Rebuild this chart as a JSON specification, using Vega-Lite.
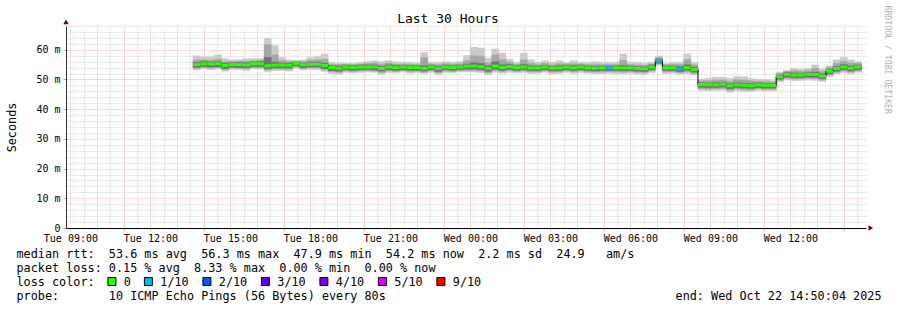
{
  "$schema": "https://vega.github.io/schema/vega-lite/v6.json",
  "width": 800,
  "height": 202,
  "autosize": {"type": "none"},
  "padding": {"left": 66, "top": 26, "right": 31, "bottom": 82},
  "background": "#ffffff",
  "config": {"view": {"stroke": null}, "font": "DejaVu Sans Mono"},
  "title": {"text": "Last 30 Hours", "font": "DejaVu Sans Mono", "fontSize": 13, "fontWeight": "normal", "color": "#000000", "anchor": "middle", "frame": "group", "dx": -18, "dy": 33, "offset": 2, "baseline": "alphabetic"},
  "datasets": {
    "pings": [
      {"t":"2025-10-21T13:36","t2":"2025-10-21T13:52","median":55.0,"loss":"0","lo1":53.2,"lo2":53.7,"lo3":54.1,"hi3":55.7,"hi2":56.5,"hi1":58.0},
      {"t":"2025-10-21T13:52","t2":"2025-10-21T14:08","median":55.3,"loss":"0","lo1":53.6,"lo2":54.0,"lo3":54.4,"hi3":56.0,"hi2":56.6,"hi1":57.6},
      {"t":"2025-10-21T14:08","t2":"2025-10-21T14:24","median":55.2,"loss":"0","lo1":53.3,"lo2":53.8,"lo3":54.2,"hi3":55.9,"hi2":56.5,"hi1":57.6},
      {"t":"2025-10-21T14:24","t2":"2025-10-21T14:40","median":55.3,"loss":"0","lo1":53.5,"lo2":54.0,"lo3":54.3,"hi3":56.0,"hi2":56.9,"hi1":58.3},
      {"t":"2025-10-21T14:40","t2":"2025-10-21T14:56","median":54.7,"loss":"0","lo1":52.8,"lo2":53.3,"lo3":53.7,"hi3":55.4,"hi2":56.0,"hi1":57.0},
      {"t":"2025-10-21T14:56","t2":"2025-10-21T15:12","median":55.0,"loss":"0","lo1":53.4,"lo2":53.9,"lo3":54.1,"hi3":55.6,"hi2":56.0,"hi1":56.6},
      {"t":"2025-10-21T15:12","t2":"2025-10-21T15:28","median":55.0,"loss":"0","lo1":53.3,"lo2":53.8,"lo3":54.0,"hi3":55.7,"hi2":56.1,"hi1":56.6},
      {"t":"2025-10-21T15:28","t2":"2025-10-21T15:44","median":54.9,"loss":"0","lo1":53.0,"lo2":53.6,"lo3":54.0,"hi3":55.6,"hi2":56.2,"hi1":57.0},
      {"t":"2025-10-21T15:44","t2":"2025-10-21T16:00","median":55.3,"loss":"0","lo1":53.6,"lo2":54.0,"lo3":54.4,"hi3":55.9,"hi2":56.3,"hi1":57.0},
      {"t":"2025-10-21T16:00","t2":"2025-10-21T16:16","median":55.3,"loss":"0","lo1":53.5,"lo2":54.0,"lo3":54.3,"hi3":56.0,"hi2":56.5,"hi1":57.0},
      {"t":"2025-10-21T16:16","t2":"2025-10-21T16:32","median":54.6,"loss":"0","lo1":52.6,"lo2":53.2,"lo3":53.6,"hi3":57.4,"hi2":61.7,"hi1":63.9},
      {"t":"2025-10-21T16:32","t2":"2025-10-21T16:48","median":54.8,"loss":"0","lo1":53.0,"lo2":53.5,"lo3":53.9,"hi3":55.8,"hi2":58.3,"hi1":61.4},
      {"t":"2025-10-21T16:48","t2":"2025-10-21T17:04","median":54.8,"loss":"0","lo1":53.0,"lo2":53.5,"lo3":53.9,"hi3":55.5,"hi2":56.3,"hi1":57.4},
      {"t":"2025-10-21T17:04","t2":"2025-10-21T17:20","median":54.8,"loss":"0","lo1":52.8,"lo2":53.4,"lo3":53.9,"hi3":55.5,"hi2":56.0,"hi1":56.6},
      {"t":"2025-10-21T17:20","t2":"2025-10-21T17:36","median":55.4,"loss":"0","lo1":53.8,"lo2":54.3,"lo3":54.6,"hi3":55.9,"hi2":56.1,"hi1":56.4},
      {"t":"2025-10-21T17:36","t2":"2025-10-21T17:52","median":54.9,"loss":"0","lo1":53.2,"lo2":53.7,"lo3":54.0,"hi3":55.5,"hi2":56.0,"hi1":56.6},
      {"t":"2025-10-21T17:52","t2":"2025-10-21T18:08","median":55.1,"loss":"0","lo1":53.4,"lo2":53.9,"lo3":54.2,"hi3":55.8,"hi2":56.5,"hi1":57.4},
      {"t":"2025-10-21T18:08","t2":"2025-10-21T18:24","median":55.1,"loss":"0","lo1":53.3,"lo2":53.9,"lo3":54.2,"hi3":55.8,"hi2":56.6,"hi1":57.8},
      {"t":"2025-10-21T18:24","t2":"2025-10-21T18:40","median":54.7,"loss":"0","lo1":52.7,"lo2":53.3,"lo3":53.7,"hi3":55.5,"hi2":56.8,"hi1":58.6},
      {"t":"2025-10-21T18:40","t2":"2025-10-21T18:56","median":54.0,"loss":"0","lo1":52.0,"lo2":52.6,"lo3":53.0,"hi3":54.6,"hi2":55.1,"hi1":55.8},
      {"t":"2025-10-21T18:56","t2":"2025-10-21T19:12","median":53.8,"loss":"0","lo1":51.8,"lo2":52.4,"lo3":52.8,"hi3":54.5,"hi2":55.0,"hi1":55.5},
      {"t":"2025-10-21T19:12","t2":"2025-10-21T19:28","median":54.2,"loss":"0","lo1":52.4,"lo2":52.9,"lo3":53.3,"hi3":54.8,"hi2":55.1,"hi1":55.5},
      {"t":"2025-10-21T19:28","t2":"2025-10-21T19:44","median":54.0,"loss":"0","lo1":52.2,"lo2":52.7,"lo3":53.1,"hi3":54.6,"hi2":55.0,"hi1":55.5},
      {"t":"2025-10-21T19:44","t2":"2025-10-21T20:00","median":54.2,"loss":"0","lo1":52.3,"lo2":52.9,"lo3":53.3,"hi3":54.8,"hi2":55.2,"hi1":55.8},
      {"t":"2025-10-21T20:00","t2":"2025-10-21T20:16","median":54.2,"loss":"0","lo1":52.5,"lo2":53.0,"lo3":53.3,"hi3":54.9,"hi2":55.4,"hi1":56.0},
      {"t":"2025-10-21T20:16","t2":"2025-10-21T20:32","median":54.2,"loss":"0","lo1":52.4,"lo2":52.9,"lo3":53.2,"hi3":54.9,"hi2":55.5,"hi1":56.3},
      {"t":"2025-10-21T20:32","t2":"2025-10-21T20:48","median":53.7,"loss":"0","lo1":51.8,"lo2":52.4,"lo3":52.8,"hi3":54.4,"hi2":55.1,"hi1":56.0},
      {"t":"2025-10-21T20:48","t2":"2025-10-21T21:04","median":54.2,"loss":"0","lo1":52.3,"lo2":52.9,"lo3":53.3,"hi3":54.9,"hi2":55.5,"hi1":56.3},
      {"t":"2025-10-21T21:04","t2":"2025-10-21T21:20","median":54.0,"loss":"0","lo1":52.2,"lo2":52.7,"lo3":53.1,"hi3":54.7,"hi2":55.2,"hi1":56.0},
      {"t":"2025-10-21T21:20","t2":"2025-10-21T21:36","median":54.2,"loss":"0","lo1":52.5,"lo2":53.0,"lo3":53.3,"hi3":54.8,"hi2":55.2,"hi1":55.8},
      {"t":"2025-10-21T21:36","t2":"2025-10-21T21:52","median":54.0,"loss":"0","lo1":52.1,"lo2":52.7,"lo3":53.1,"hi3":54.6,"hi2":55.1,"hi1":55.8},
      {"t":"2025-10-21T21:52","t2":"2025-10-21T22:08","median":54.0,"loss":"0","lo1":52.3,"lo2":52.8,"lo3":53.1,"hi3":54.6,"hi2":55.0,"hi1":55.6},
      {"t":"2025-10-21T22:08","t2":"2025-10-21T22:24","median":53.8,"loss":"0","lo1":52.0,"lo2":52.5,"lo3":52.9,"hi3":54.6,"hi2":57.4,"hi1":59.2},
      {"t":"2025-10-21T22:24","t2":"2025-10-21T22:40","median":54.2,"loss":"0","lo1":52.4,"lo2":52.9,"lo3":53.3,"hi3":54.8,"hi2":55.2,"hi1":55.8},
      {"t":"2025-10-21T22:40","t2":"2025-10-21T22:56","median":53.7,"loss":"0","lo1":51.7,"lo2":52.3,"lo3":52.7,"hi3":54.4,"hi2":55.0,"hi1":55.8},
      {"t":"2025-10-21T22:56","t2":"2025-10-21T23:12","median":54.2,"loss":"0","lo1":52.4,"lo2":52.9,"lo3":53.3,"hi3":54.8,"hi2":55.3,"hi1":56.0},
      {"t":"2025-10-21T23:12","t2":"2025-10-21T23:28","median":54.0,"loss":"0","lo1":52.2,"lo2":52.7,"lo3":53.1,"hi3":54.6,"hi2":55.1,"hi1":55.8},
      {"t":"2025-10-21T23:28","t2":"2025-10-21T23:44","median":54.2,"loss":"0","lo1":52.5,"lo2":53.0,"lo3":53.3,"hi3":54.8,"hi2":55.3,"hi1":56.0},
      {"t":"2025-10-21T23:44","t2":"2025-10-22T00:00","median":54.5,"loss":"0","lo1":52.6,"lo2":53.1,"lo3":53.5,"hi3":55.2,"hi2":56.3,"hi1":58.1},
      {"t":"2025-10-22T00:00","t2":"2025-10-22T00:16","median":54.5,"loss":"0","lo1":52.5,"lo2":53.1,"lo3":53.5,"hi3":55.6,"hi2":58.0,"hi1":60.9},
      {"t":"2025-10-22T00:16","t2":"2025-10-22T00:32","median":54.3,"loss":"0","lo1":52.3,"lo2":52.9,"lo3":53.3,"hi3":55.4,"hi2":57.8,"hi1":60.6},
      {"t":"2025-10-22T00:32","t2":"2025-10-22T00:48","median":53.8,"loss":"0","lo1":51.6,"lo2":52.3,"lo3":52.8,"hi3":54.6,"hi2":55.6,"hi1":57.2},
      {"t":"2025-10-22T00:48","t2":"2025-10-22T01:04","median":54.5,"loss":"0","lo1":52.4,"lo2":53.0,"lo3":53.5,"hi3":55.9,"hi2":58.3,"hi1":60.3},
      {"t":"2025-10-22T01:04","t2":"2025-10-22T01:20","median":54.0,"loss":"0","lo1":52.1,"lo2":52.7,"lo3":53.1,"hi3":54.9,"hi2":56.6,"hi1":58.9},
      {"t":"2025-10-22T01:20","t2":"2025-10-22T01:36","median":54.3,"loss":"0","lo1":52.4,"lo2":53.0,"lo3":53.4,"hi3":55.0,"hi2":55.8,"hi1":56.8},
      {"t":"2025-10-22T01:36","t2":"2025-10-22T01:52","median":54.0,"loss":"0","lo1":52.2,"lo2":52.7,"lo3":53.1,"hi3":54.6,"hi2":55.1,"hi1":55.8},
      {"t":"2025-10-22T01:52","t2":"2025-10-22T02:08","median":54.2,"loss":"0","lo1":52.3,"lo2":52.9,"lo3":53.3,"hi3":55.0,"hi2":56.6,"hi1":58.9},
      {"t":"2025-10-22T02:08","t2":"2025-10-22T02:24","median":53.9,"loss":"0","lo1":52.0,"lo2":52.6,"lo3":53.0,"hi3":54.6,"hi2":55.4,"hi1":56.6},
      {"t":"2025-10-22T02:24","t2":"2025-10-22T02:40","median":53.9,"loss":"0","lo1":52.1,"lo2":52.6,"lo3":53.0,"hi3":54.5,"hi2":55.0,"hi1":55.8},
      {"t":"2025-10-22T02:40","t2":"2025-10-22T02:56","median":54.2,"loss":"0","lo1":52.4,"lo2":52.9,"lo3":53.3,"hi3":54.8,"hi2":55.4,"hi1":56.3},
      {"t":"2025-10-22T02:56","t2":"2025-10-22T03:12","median":53.8,"loss":"0","lo1":51.9,"lo2":52.5,"lo3":52.9,"hi3":54.4,"hi2":54.9,"hi1":55.8},
      {"t":"2025-10-22T03:12","t2":"2025-10-22T03:28","median":53.9,"loss":"0","lo1":52.0,"lo2":52.6,"lo3":53.0,"hi3":54.6,"hi2":55.3,"hi1":56.3},
      {"t":"2025-10-22T03:28","t2":"2025-10-22T03:44","median":54.2,"loss":"0","lo1":52.4,"lo2":52.9,"lo3":53.3,"hi3":54.8,"hi2":55.2,"hi1":55.8},
      {"t":"2025-10-22T03:44","t2":"2025-10-22T04:00","median":53.9,"loss":"0","lo1":52.0,"lo2":52.6,"lo3":53.0,"hi3":54.6,"hi2":55.3,"hi1":56.3},
      {"t":"2025-10-22T04:00","t2":"2025-10-22T04:16","median":54.2,"loss":"0","lo1":52.3,"lo2":52.9,"lo3":53.3,"hi3":54.8,"hi2":55.2,"hi1":55.8},
      {"t":"2025-10-22T04:16","t2":"2025-10-22T04:32","median":53.9,"loss":"0","lo1":52.1,"lo2":52.6,"lo3":53.0,"hi3":54.5,"hi2":55.0,"hi1":55.8},
      {"t":"2025-10-22T04:32","t2":"2025-10-22T04:48","median":53.8,"loss":"0","lo1":51.9,"lo2":52.5,"lo3":52.9,"hi3":54.4,"hi2":55.0,"hi1":56.0},
      {"t":"2025-10-22T04:48","t2":"2025-10-22T05:04","median":53.9,"loss":"0","lo1":52.0,"lo2":52.6,"lo3":53.0,"hi3":54.5,"hi2":55.0,"hi1":55.8},
      {"t":"2025-10-22T05:04","t2":"2025-10-22T05:20","median":53.9,"loss":"1/10","lo1":52.1,"lo2":52.6,"lo3":53.0,"hi3":54.5,"hi2":55.0,"hi1":55.8},
      {"t":"2025-10-22T05:20","t2":"2025-10-22T05:36","median":53.9,"loss":"0","lo1":52.0,"lo2":52.6,"lo3":53.0,"hi3":54.5,"hi2":55.0,"hi1":55.8},
      {"t":"2025-10-22T05:36","t2":"2025-10-22T05:52","median":53.9,"loss":"0","lo1":51.9,"lo2":52.5,"lo3":53.0,"hi3":54.7,"hi2":56.5,"hi1":58.6},
      {"t":"2025-10-22T05:52","t2":"2025-10-22T06:08","median":53.9,"loss":"0","lo1":52.1,"lo2":52.6,"lo3":53.0,"hi3":54.5,"hi2":55.0,"hi1":55.8},
      {"t":"2025-10-22T06:08","t2":"2025-10-22T06:24","median":53.7,"loss":"0","lo1":51.8,"lo2":52.4,"lo3":52.8,"hi3":54.3,"hi2":54.9,"hi1":55.8},
      {"t":"2025-10-22T06:24","t2":"2025-10-22T06:40","median":53.6,"loss":"0","lo1":51.7,"lo2":52.3,"lo3":52.7,"hi3":54.2,"hi2":54.8,"hi1":55.5},
      {"t":"2025-10-22T06:40","t2":"2025-10-22T06:56","median":54.2,"loss":"0","lo1":52.3,"lo2":52.9,"lo3":53.3,"hi3":54.8,"hi2":55.2,"hi1":55.8},
      {"t":"2025-10-22T06:56","t2":"2025-10-22T07:12","median":56.3,"loss":"1/10","lo1":54.8,"lo2":55.2,"lo3":55.5,"hi3":56.9,"hi2":57.3,"hi1":57.9},
      {"t":"2025-10-22T07:12","t2":"2025-10-22T07:28","median":53.9,"loss":"0","lo1":52.0,"lo2":52.6,"lo3":53.0,"hi3":54.5,"hi2":55.0,"hi1":55.5},
      {"t":"2025-10-22T07:28","t2":"2025-10-22T07:44","median":53.9,"loss":"0","lo1":52.1,"lo2":52.6,"lo3":53.0,"hi3":54.5,"hi2":55.1,"hi1":55.8},
      {"t":"2025-10-22T07:44","t2":"2025-10-22T08:00","median":53.6,"loss":"1/10","lo1":51.8,"lo2":52.3,"lo3":52.7,"hi3":54.3,"hi2":55.0,"hi1":55.8},
      {"t":"2025-10-22T08:00","t2":"2025-10-22T08:16","median":54.0,"loss":"0","lo1":52.0,"lo2":52.6,"lo3":53.1,"hi3":54.9,"hi2":56.7,"hi1":58.6},
      {"t":"2025-10-22T08:16","t2":"2025-10-22T08:32","median":53.4,"loss":"0","lo1":51.5,"lo2":52.1,"lo3":52.5,"hi3":54.1,"hi2":54.9,"hi1":55.8},
      {"t":"2025-10-22T08:32","t2":"2025-10-22T08:48","median":48.3,"loss":"0","lo1":46.3,"lo2":46.9,"lo3":47.4,"hi3":48.9,"hi2":49.5,"hi1":50.1},
      {"t":"2025-10-22T08:48","t2":"2025-10-22T09:04","median":48.2,"loss":"0","lo1":46.2,"lo2":46.8,"lo3":47.3,"hi3":48.8,"hi2":49.6,"hi1":50.4},
      {"t":"2025-10-22T09:04","t2":"2025-10-22T09:20","median":48.2,"loss":"0","lo1":46.3,"lo2":46.9,"lo3":47.3,"hi3":48.9,"hi2":49.8,"hi1":50.8},
      {"t":"2025-10-22T09:20","t2":"2025-10-22T09:36","median":48.4,"loss":"0","lo1":46.4,"lo2":47.0,"lo3":47.5,"hi3":49.0,"hi2":49.9,"hi1":50.8},
      {"t":"2025-10-22T09:36","t2":"2025-10-22T09:52","median":47.9,"loss":"0","lo1":45.7,"lo2":46.4,"lo3":46.9,"hi3":48.6,"hi2":49.4,"hi1":50.4},
      {"t":"2025-10-22T09:52","t2":"2025-10-22T10:08","median":48.2,"loss":"0","lo1":46.2,"lo2":46.8,"lo3":47.3,"hi3":48.9,"hi2":49.9,"hi1":51.0},
      {"t":"2025-10-22T10:08","t2":"2025-10-22T10:24","median":48.0,"loss":"0","lo1":45.9,"lo2":46.6,"lo3":47.1,"hi3":48.7,"hi2":49.8,"hi1":51.0},
      {"t":"2025-10-22T10:24","t2":"2025-10-22T10:40","median":47.9,"loss":"0","lo1":45.9,"lo2":46.5,"lo3":47.0,"hi3":48.6,"hi2":49.5,"hi1":50.4},
      {"t":"2025-10-22T10:40","t2":"2025-10-22T10:56","median":48.2,"loss":"0","lo1":46.3,"lo2":46.9,"lo3":47.3,"hi3":48.8,"hi2":49.4,"hi1":50.1},
      {"t":"2025-10-22T10:56","t2":"2025-10-22T11:12","median":48.0,"loss":"0","lo1":46.1,"lo2":46.7,"lo3":47.1,"hi3":48.6,"hi2":49.3,"hi1":49.9},
      {"t":"2025-10-22T11:12","t2":"2025-10-22T11:28","median":48.0,"loss":"0","lo1":46.2,"lo2":46.7,"lo3":47.1,"hi3":48.6,"hi2":49.2,"hi1":49.7},
      {"t":"2025-10-22T11:28","t2":"2025-10-22T11:44","median":50.9,"loss":"0","lo1":49.2,"lo2":49.7,"lo3":50.1,"hi3":51.5,"hi2":52.0,"hi1":52.4},
      {"t":"2025-10-22T11:44","t2":"2025-10-22T12:00","median":51.7,"loss":"0","lo1":49.9,"lo2":50.4,"lo3":50.8,"hi3":52.3,"hi2":52.7,"hi1":53.0},
      {"t":"2025-10-22T12:00","t2":"2025-10-22T12:16","median":51.5,"loss":"0","lo1":49.6,"lo2":50.2,"lo3":50.6,"hi3":52.2,"hi2":53.0,"hi1":53.8},
      {"t":"2025-10-22T12:16","t2":"2025-10-22T12:32","median":51.5,"loss":"0","lo1":49.7,"lo2":50.2,"lo3":50.6,"hi3":52.1,"hi2":52.8,"hi1":53.5},
      {"t":"2025-10-22T12:32","t2":"2025-10-22T12:48","median":51.7,"loss":"0","lo1":49.8,"lo2":50.4,"lo3":50.8,"hi3":52.3,"hi2":53.0,"hi1":53.8},
      {"t":"2025-10-22T12:48","t2":"2025-10-22T13:04","median":51.7,"loss":"0","lo1":49.7,"lo2":50.3,"lo3":50.8,"hi3":52.5,"hi2":53.7,"hi1":54.9},
      {"t":"2025-10-22T13:04","t2":"2025-10-22T13:20","median":51.2,"loss":"0","lo1":49.3,"lo2":49.9,"lo3":50.3,"hi3":51.9,"hi2":52.7,"hi1":53.5},
      {"t":"2025-10-22T13:20","t2":"2025-10-22T13:36","median":52.8,"loss":"0","lo1":50.9,"lo2":51.5,"lo3":51.9,"hi3":53.4,"hi2":54.0,"hi1":54.6},
      {"t":"2025-10-22T13:36","t2":"2025-10-22T13:52","median":53.7,"loss":"0","lo1":51.8,"lo2":52.4,"lo3":52.8,"hi3":54.4,"hi2":55.4,"hi1":56.6},
      {"t":"2025-10-22T13:52","t2":"2025-10-22T14:08","median":54.2,"loss":"0","lo1":52.3,"lo2":52.9,"lo3":53.3,"hi3":55.0,"hi2":56.1,"hi1":57.5},
      {"t":"2025-10-22T14:08","t2":"2025-10-22T14:24","median":53.8,"loss":"0","lo1":51.9,"lo2":52.5,"lo3":52.9,"hi3":54.5,"hi2":55.5,"hi1":56.6},
      {"t":"2025-10-22T14:24","t2":"2025-10-22T14:40","median":54.2,"loss":"0","lo1":52.4,"lo2":52.9,"lo3":53.3,"hi3":54.8,"hi2":55.4,"hi1":56.0}
    ]
  },
  "data": {"name": "pings"},
  "resolve": {"axis": {"x": "independent", "y": "independent"}},
  "layer": [
    {
      "mark": {"type": "rect", "fill": "#cbcbcb", "stroke": "#cbcbcb", "strokeWidth": 0.5},
      "encoding": {
        "x": {"field": "t", "type": "temporal",
          "scale": {"domain": [{"year": 2025, "month": 10, "date": 21, "hours": 8, "minutes": 50, "seconds": 4}, {"year": 2025, "month": 10, "date": 22, "hours": 14, "minutes": 50, "seconds": 4}], "padding": 0},
          "axis": {"orient": "top",
            "values": [
              {"year": 2025, "month": 10, "date": 21, "hours": 9, "minutes": 30},
              {"year": 2025, "month": 10, "date": 21, "hours": 10, "minutes": 30},
              {"year": 2025, "month": 10, "date": 21, "hours": 11, "minutes": 30},
              {"year": 2025, "month": 10, "date": 21, "hours": 12, "minutes": 30},
              {"year": 2025, "month": 10, "date": 21, "hours": 13, "minutes": 30},
              {"year": 2025, "month": 10, "date": 21, "hours": 14, "minutes": 30},
              {"year": 2025, "month": 10, "date": 21, "hours": 15, "minutes": 30},
              {"year": 2025, "month": 10, "date": 21, "hours": 16, "minutes": 30},
              {"year": 2025, "month": 10, "date": 21, "hours": 17, "minutes": 30},
              {"year": 2025, "month": 10, "date": 21, "hours": 18, "minutes": 30},
              {"year": 2025, "month": 10, "date": 21, "hours": 19, "minutes": 30},
              {"year": 2025, "month": 10, "date": 21, "hours": 20, "minutes": 30},
              {"year": 2025, "month": 10, "date": 21, "hours": 21, "minutes": 30},
              {"year": 2025, "month": 10, "date": 21, "hours": 22, "minutes": 30},
              {"year": 2025, "month": 10, "date": 21, "hours": 23, "minutes": 30},
              {"year": 2025, "month": 10, "date": 22, "hours": 0, "minutes": 30},
              {"year": 2025, "month": 10, "date": 22, "hours": 1, "minutes": 30},
              {"year": 2025, "month": 10, "date": 22, "hours": 2, "minutes": 30},
              {"year": 2025, "month": 10, "date": 22, "hours": 3, "minutes": 30},
              {"year": 2025, "month": 10, "date": 22, "hours": 4, "minutes": 30},
              {"year": 2025, "month": 10, "date": 22, "hours": 5, "minutes": 30},
              {"year": 2025, "month": 10, "date": 22, "hours": 6, "minutes": 30},
              {"year": 2025, "month": 10, "date": 22, "hours": 7, "minutes": 30},
              {"year": 2025, "month": 10, "date": 22, "hours": 8, "minutes": 30},
              {"year": 2025, "month": 10, "date": 22, "hours": 9, "minutes": 30},
              {"year": 2025, "month": 10, "date": 22, "hours": 10, "minutes": 30},
              {"year": 2025, "month": 10, "date": 22, "hours": 11, "minutes": 30},
              {"year": 2025, "month": 10, "date": 22, "hours": 12, "minutes": 30},
              {"year": 2025, "month": 10, "date": 22, "hours": 13, "minutes": 30},
              {"year": 2025, "month": 10, "date": 22, "hours": 14, "minutes": 30}
            ],
            "labels": false, "ticks": false, "domain": false,
            "grid": true, "gridColor": "#d4d4d4", "gridDash": [1, 1], "gridWidth": 1,
            "title": "end: Wed Oct 22 14:50:04 2025", "titleFont": "DejaVu Sans Mono", "titleFontSize": 11.8, "titleFontWeight": "normal", "titleColor": "#000000",
            "titleX": 815, "titleY": 273.5, "titleAlign": "right", "titleBaseline": "alphabetic", "titleAngle": 0}},
        "x2": {"field": "t2"},
        "y": {"field": "lo1", "type": "quantitative",
          "scale": {"domain": [0, 68], "nice": false, "zero": false, "padding": 0},
          "axis": {"orient": "right", "values": [2, 4, 6, 8, 12, 14, 16, 18, 22, 24, 26, 28, 32, 34, 36, 38, 42, 44, 46, 48, 52, 54, 56, 58, 62, 64, 66, 68],
            "labels": false, "ticks": false, "domain": false,
            "grid": true, "gridColor": "#d4d4d4", "gridDash": [1, 1], "gridWidth": 1,
            "title": "RRDTOOL / TOBI OETIKER", "titleFont": "DejaVu Sans Mono", "titleFontSize": 8.2, "titleFontWeight": "normal", "titleColor": "#b0b0b0",
            "titleAngle": 90, "titleX": 20, "titleY": -21, "titleAlign": "left", "titleBaseline": "middle"}},
        "y2": {"field": "hi1"}
      }
    },
    {
      "mark": {"type": "rect", "fill": "#a5a5a5", "stroke": "#a5a5a5", "strokeWidth": 0.5},
      "encoding": {
        "x": {"field": "t", "type": "temporal", "axis": null},
        "x2": {"field": "t2"},
        "y": {"field": "lo2", "type": "quantitative", "axis": null},
        "y2": {"field": "hi2"}
      }
    },
    {
      "mark": {"type": "rect", "fill": "#707070", "stroke": "#707070", "strokeWidth": 0.5},
      "encoding": {
        "x": {"field": "t", "type": "temporal", "axis": null},
        "x2": {"field": "t2"},
        "y": {"field": "lo3", "type": "quantitative", "axis": null},
        "y2": {"field": "hi3"}
      }
    },
    {
      "mark": {"type": "line", "interpolate": "step-after", "stroke": "#000000", "strokeWidth": 1},
      "encoding": {
        "x": {"field": "t", "type": "temporal", "axis": null},
        "y": {"field": "median", "type": "quantitative", "axis": null}
      }
    },
    {
      "mark": {"type": "bar", "height": 3, "opacity": 1},
      "encoding": {
        "x": {"field": "t", "type": "temporal",
          "axis": {"orient": "bottom",
            "values": [
              {"year": 2025, "month": 10, "date": 21, "hours": 9},
              {"year": 2025, "month": 10, "date": 21, "hours": 10},
              {"year": 2025, "month": 10, "date": 21, "hours": 11},
              {"year": 2025, "month": 10, "date": 21, "hours": 12},
              {"year": 2025, "month": 10, "date": 21, "hours": 13},
              {"year": 2025, "month": 10, "date": 21, "hours": 14},
              {"year": 2025, "month": 10, "date": 21, "hours": 15},
              {"year": 2025, "month": 10, "date": 21, "hours": 16},
              {"year": 2025, "month": 10, "date": 21, "hours": 17},
              {"year": 2025, "month": 10, "date": 21, "hours": 18},
              {"year": 2025, "month": 10, "date": 21, "hours": 19},
              {"year": 2025, "month": 10, "date": 21, "hours": 20},
              {"year": 2025, "month": 10, "date": 21, "hours": 21},
              {"year": 2025, "month": 10, "date": 21, "hours": 22},
              {"year": 2025, "month": 10, "date": 21, "hours": 23},
              {"year": 2025, "month": 10, "date": 22, "hours": 0},
              {"year": 2025, "month": 10, "date": 22, "hours": 1},
              {"year": 2025, "month": 10, "date": 22, "hours": 2},
              {"year": 2025, "month": 10, "date": 22, "hours": 3},
              {"year": 2025, "month": 10, "date": 22, "hours": 4},
              {"year": 2025, "month": 10, "date": 22, "hours": 5},
              {"year": 2025, "month": 10, "date": 22, "hours": 6},
              {"year": 2025, "month": 10, "date": 22, "hours": 7},
              {"year": 2025, "month": 10, "date": 22, "hours": 8},
              {"year": 2025, "month": 10, "date": 22, "hours": 9},
              {"year": 2025, "month": 10, "date": 22, "hours": 10},
              {"year": 2025, "month": 10, "date": 22, "hours": 11},
              {"year": 2025, "month": 10, "date": 22, "hours": 12},
              {"year": 2025, "month": 10, "date": 22, "hours": 13},
              {"year": 2025, "month": 10, "date": 22, "hours": 14}
            ],
            "labelExpr": "hours(datum.value) % 3 == 0 ? timeFormat(datum.value, '%a %H:%M') : ''",
            "labelFont": "DejaVu Sans Mono", "labelFontSize": 10, "labelColor": "#000000", "labelPadding": 3, "labelOverlap": false, "labelFlush": false,
            "ticks": true, "tickColor": "#e88080", "tickSize": 2, "tickWidth": 1,
            "domain": true, "domainColor": "#000000", "domainWidth": 1,
            "grid": true, "gridColor": "#f7b0b0", "gridDash": [1, 1], "gridWidth": 1,
            "title": ["median rtt:\u00a0\u00a053.6 ms avg\u00a0\u00a056.3 ms max\u00a0\u00a047.9 ms min\u00a0\u00a054.2 ms now\u00a0\u00a02.2 ms sd\u00a0\u00a024.9\u00a0\u00a0\u00a0am/s",
                      "packet loss: 0.15 % avg\u00a0\u00a08.33 % max\u00a0\u00a00.00 % min\u00a0\u00a00.00 % now",
                      "loss color:",
                      "probe:\u00a0\u00a0\u00a0\u00a0\u00a0\u00a0\u00a010 ICMP Echo Pings (56 Bytes) every 80s"],
            "titleFont": "DejaVu Sans Mono", "titleFontSize": 11.8, "titleFontWeight": "normal", "titleColor": "#000000",
            "titleX": -50, "titleY": 29.5, "titleAlign": "left", "titleAnchor": "start", "titleBaseline": "alphabetic", "titleLineHeight": 14, "titleAngle": 0}},
        "x2": {"field": "t2"},
        "y": {"field": "median", "type": "quantitative",
          "scale": {"padding": 0},
          "axis": {"orient": "left", "values": [0, 10, 20, 30, 40, 50, 60],
            "labelExpr": "datum.value == 0 ? '0' : datum.value + ' m'",
            "labelFont": "DejaVu Sans Mono", "labelFontSize": 10, "labelColor": "#000000", "labelPadding": 3,
            "ticks": true, "tickColor": "#e88080", "tickSize": 3, "tickWidth": 1,
            "domain": true, "domainColor": "#333333", "domainWidth": 1,
            "grid": true, "gridColor": "#f7b0b0", "gridDash": [1, 1], "gridWidth": 1,
            "title": "Seconds", "titleFont": "DejaVu Sans Mono", "titleFontSize": 11.8, "titleFontWeight": "normal", "titleColor": "#000000",
            "titleAngle": 270, "titleX": -55, "titleY": 101, "titleAlign": "center", "titleBaseline": "middle"}},
        "color": {"field": "loss", "type": "nominal",
          "scale": {"domain": ["0", "1/10", "2/10", "3/10", "4/10", "5/10", "9/10"], "range": ["#26ff00", "#00b8ff", "#0059ff", "#5e00ff", "#7e00ff", "#dd00ff", "#ff0000"]},
          "legend": {"orient": "none", "legendX": 40, "legendY": 249.5, "direction": "horizontal",
            "title": null,
            "symbolType": "square", "symbolSize": 64, "symbolStrokeColor": "#000000", "symbolStrokeWidth": 1, "symbolOpacity": 1,
            "labelFont": "DejaVu Sans Mono", "labelFontSize": 11.8, "labelColor": "#000000", "labelOffset": 6, "columnPadding": 10.5, "padding": 0}}
      }
    },
    {
      "data": {"values": [{"t": "2025-10-21T08:50:04", "value": 69.4}]},
      "mark": {"type": "point", "shape": "triangle-up", "filled": true, "size": 30, "color": "#800000", "opacity": 1},
      "encoding": {
        "x": {"field": "t", "type": "temporal", "axis": null},
        "y": {"field": "value", "type": "quantitative", "axis": null}
      }
    },
    {
      "data": {"values": [{"t": "2025-10-22T15:01:00", "value": 0}]},
      "mark": {"type": "point", "shape": "triangle-right", "filled": true, "size": 30, "color": "#800000", "opacity": 1},
      "encoding": {
        "x": {"field": "t", "type": "temporal", "axis": null},
        "y": {"field": "value", "type": "quantitative", "axis": null}
      }
    }
  ]
}
